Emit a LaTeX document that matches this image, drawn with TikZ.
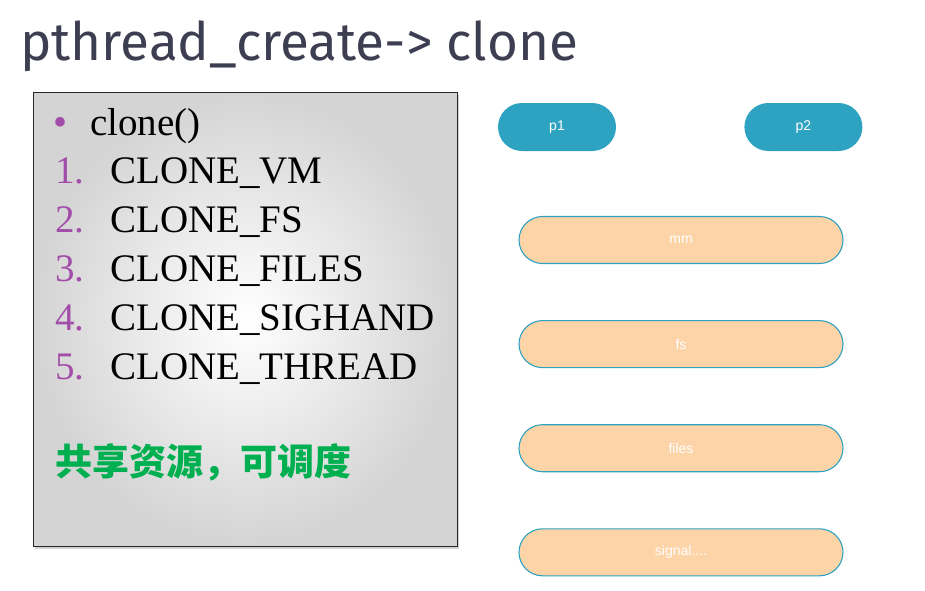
\documentclass[tikz,border=0pt]{standalone}
\usepackage{fontspec}
\usepackage{xcolor}
\usepackage{tikz}
\usetikzlibrary{positioning,shadows}
\setmainfont{Liberation Serif}
\newfontfamily\titlefont{Fira Sans}
\newfontfamily\labelfont{Liberation Sans}
\newfontfamily\cjk{Noto Sans CJK SC}
\definecolor{titlegray}{HTML}{3E3E52}
\definecolor{procblue}{HTML}{2EA3C1}
\definecolor{peach}{HTML}{FDD3A8}
\definecolor{numpurple}{HTML}{A34DAA}
\definecolor{sharegreen}{HTML}{00B050}

\begin{document}
\begin{tikzpicture}[
  x=1pt, y=-1pt,
  panel/.style={draw=black!85, line width=0.8pt, minimum width=424pt, minimum height=454pt,
    inner color=white, outer color=black!17, drop shadow={shadow xshift=2pt, shadow yshift=-3pt, opacity=0.35}},
  line/.style={anchor=base west, inner sep=0pt, font=\fontsize{39}{41}\selectfont},
  num/.style={line, text=numpurple},
  proc/.style={rectangle, rounded corners=24pt, fill=procblue, text=white, minimum width=118pt, minimum height=48pt,
    font=\labelfont\fontsize{14}{16}\selectfont},
  res/.style={rectangle, rounded corners=23.5pt, draw=procblue, line width=1.1pt, fill=peach, text=white,
    minimum width=324pt, minimum height=47pt, font=\labelfont\fontsize{14}{16}\selectfont}
]
\useasboundingbox (0,0) rectangle (925,590);

% title
\node[anchor=base west, inner sep=0pt, text=titlegray, font=\titlefont\fontsize{53}{55}\selectfont]
  (title) at (20,60) {pthread\_create-> clone};

% left panel with clone flags
\node[panel] (panel) at (245,319) {};
\node[anchor=base west, inner sep=0pt, text=numpurple, font=\fontsize{40}{42}\selectfont]
  (bullet) at (53,135) {\textbullet};
\node[line] (clone) at (90,135) {clone()};
\foreach \flag [count=\i] in {VM,FS,FILES,SIGHAND,THREAD} {
  \node[num] (n\i) at (55,{134+49*\i}) {\i.};
  \node[line] (f\i) at (110,{134+49*\i}) {CLONE\_\flag};
}
\node[anchor=base west, inner sep=0pt, text=sharegreen, font=\cjk\bfseries\fontsize{37}{40}\selectfont]
  (share) at (55,475) {共享资源，可调度};

% processes
\node[proc] (p1) at (557,127) {p1};
\node[proc, right=128pt of p1] (p2) {p2};

% shared resources
\node[res] (mm) at (681,240) {mm};
\node[res, below=56pt of mm] (fs) {fs};
\node[res, below=56pt of fs] (files) {files};
\node[res, below=56pt of files] (signal) {signal....};
\end{tikzpicture}
\end{document}
